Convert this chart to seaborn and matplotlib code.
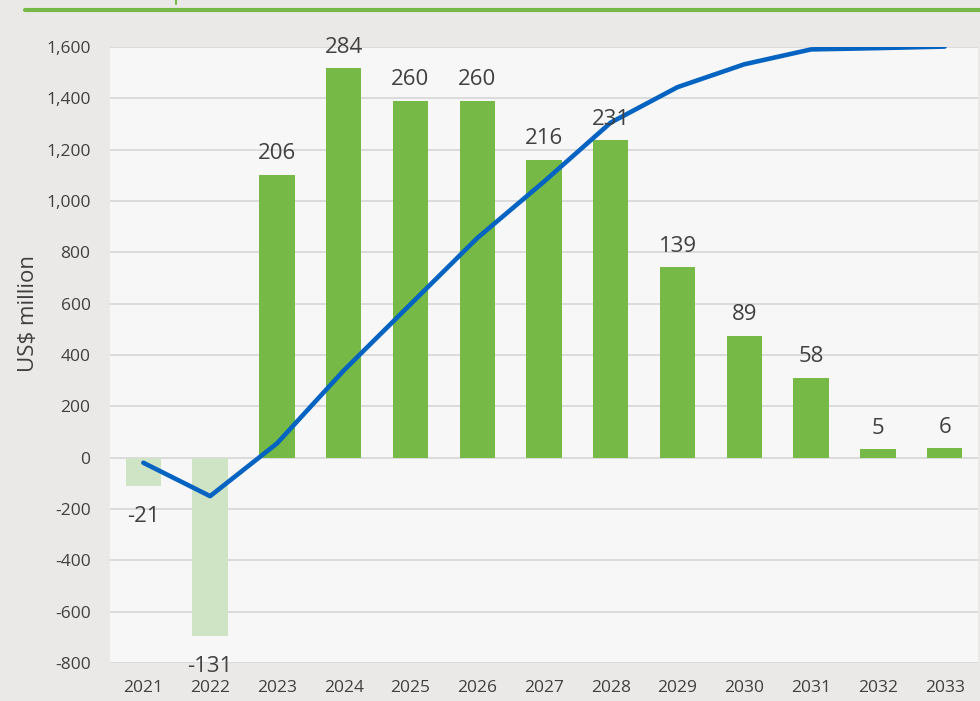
import numpy as np
import matplotlib
matplotlib.use("Agg")
import matplotlib.pyplot as plt
from matplotlib.lines import Line2D
import seaborn as sns

# Data
years = ["2021", "2022", "2023", "2024", "2025", "2026", "2027",
         "2028", "2029", "2030", "2031", "2032", "2033"]
bar_values = [-109, -693, 1102, 1518, 1390, 1390, 1160,
              1236, 743, 475, 311, 32, 38]
bar_labels = ["-21", "-131", "206", "284", "260", "260", "216",
              "231", "139", "89", "58", "5", "6"]
line_values = [-20, -150, 55, 339, 597, 855, 1075,
               1305, 1443, 1532, 1590, 1595, 1601]

green = "#76b947"
light_green = "#cfe3c5"
blue = "#0563c1"
text_color = "#404040"

sns.set_style("white")
plt.rcParams['font.family'] = ['Open Sans', 'DejaVu Sans']

fig = plt.figure(figsize=(9.8, 7.01), dpi=100)
fig.patch.set_facecolor("#ebe9e8")
ax = fig.add_axes([0.1122, 0.0542, 0.8858, 0.879])
ax.set_facecolor("#f8f7f7")

colors = [light_green if v < 0 else green for v in bar_values]
sns.barplot(x=years, y=bar_values, hue=years, palette=colors, width=0.53,
            saturation=1, legend=False, linewidth=0, ax=ax, zorder=2)
sns.lineplot(x=np.arange(len(years)), y=line_values, color=blue, linewidth=3.3,
             ax=ax, zorder=3)

# value labels above / below bars
for i, (v, lab) in enumerate(zip(bar_values, bar_labels)):
    off = 15 if v >= 0 else -22
    ax.annotate(lab, (i, v), xytext=(0, off), textcoords="offset points",
                ha="center", va="center", fontsize=16, color=text_color, zorder=4)

ax.set_xlim(-0.5, len(years) - 0.5)
ax.set_ylim(-800, 1600)
ax.set_yticks(range(-800, 1601, 200))
ax.set_yticklabels([f"{t:,}" for t in range(-800, 1601, 200)])
ax.yaxis.grid(True, color="#d9d9d9", linewidth=1.3, zorder=0)
ax.set_axisbelow(True)
for s in ax.spines.values():
    s.set_visible(False)
ax.tick_params(axis="y", length=0, pad=14, labelsize=12.5, labelcolor=text_color)
ax.tick_params(axis="x", length=0, pad=12, labelsize=12.5, labelcolor=text_color)
ax.set_xlabel("")
ax.set_ylabel("US$ million", fontsize=16, color=text_color)
ax.yaxis.set_label_coords(-0.082, 0.568)

# green rule at the top of the figure
fig.add_artist(Line2D([25 / 980, 1.0], [1 - 10 / 701, 1 - 10 / 701],
                      color=green, linewidth=3, transform=fig.transFigure))
fig.add_artist(Line2D([176 / 980, 176 / 980], [1.0, 1 - 4 / 701],
                      color=green, linewidth=1.5, transform=fig.transFigure))

fig.savefig("out.png", dpi=100, facecolor=fig.get_facecolor())
